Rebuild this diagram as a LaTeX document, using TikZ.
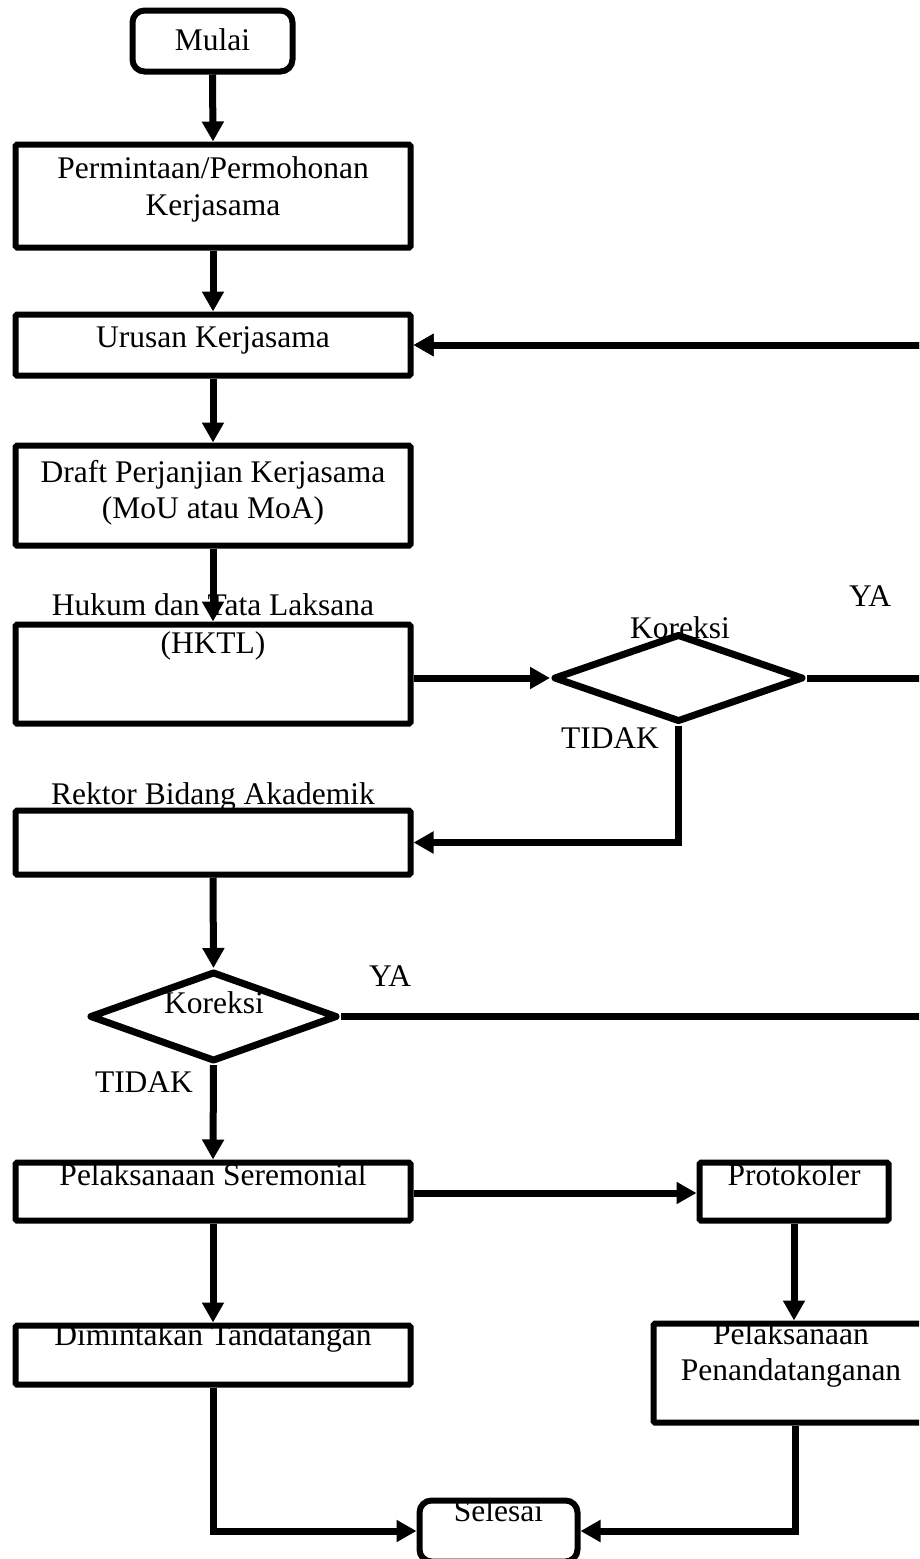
\documentclass[tikz,border=0pt]{standalone}
\usepackage{fontspec}
\setmainfont{Liberation Serif}
\usetikzlibrary{arrows.meta,shapes.geometric}
\begin{document}
\begin{tikzpicture}[x=1pt,y=-1pt,
  box/.style={draw, line width=6pt, rounded corners=1.5pt, inner sep=0pt},
  term/.style={draw, line width=6pt, rounded corners=12pt, inner sep=0pt},
  dec/.style={draw, diamond, line width=7pt, inner sep=0pt, line join=round},
  lbl/.style={font=\fontsize{31.5}{36}\selectfont, inner sep=0pt, anchor=base},
  flow/.style={line width=7pt, -{Triangle[length=20pt,width=21pt]}},
  plain/.style={line width=7pt}]
\clip (0,0) rectangle (919,1559);
% texts
\node[lbl] (tmulai) at (212.5,50) {Mulai};
\node[lbl] (tperm1) at (213,178) {Permintaan/Permohonan};
\node[lbl] (tperm2) at (213,215) {Kerjasama};
\node[lbl] (turusan) at (213,347) {Urusan Kerjasama};
\node[lbl] (tdraft1) at (213,482) {Draft Perjanjian Kerjasama};
\node[lbl] (tdraft2) at (213,518) {(MoU atau MoA)};
\node[lbl] (thktl1) at (213,615) {Hukum dan Tata Laksana};
\node[lbl] (thktl2) at (213,653) {(HKTL)};
\node[lbl] (trektor) at (213,804) {Rektor Bidang Akademik};
\node[lbl] (tkor1) at (680,638) {Koreksi};
\node[lbl] (tya1) at (870,606) {YA};
\node[lbl] (ttidak1) at (610,748) {TIDAK};
\node[lbl] (tkor2) at (214,1013) {Koreksi};
\node[lbl] (tya2) at (390,986) {YA};
\node[lbl] (ttidak2) at (144,1092) {TIDAK};
\node[lbl] (tser) at (213,1185) {Pelaksanaan Seremonial};
\node[lbl] (tprot) at (794,1185) {Protokoler};
\node[lbl] (tdim) at (213,1345) {Dimintakan Tandatangan};
\node[lbl] (tpen1) at (791,1344) {Pelaksanaan};
\node[lbl] (tpen2) at (791,1380) {Penandatanganan};
\node[lbl] (tsel) at (498.5,1521) {Selesai};
% shapes
\node[term, minimum width=160pt, minimum height=61pt] (mulai) at (212.5,41) {};
\node[box, minimum width=395pt, minimum height=103pt] (perm) at (213,196) {};
\node[box, minimum width=395pt, minimum height=61pt] (urusan) at (213,345) {};
\node[box, minimum width=395pt, minimum height=100pt] (draft) at (213,495.5) {};
\node[box, minimum width=395pt, minimum height=99pt] (hktl) at (213,674) {};
\node[box, minimum width=395pt, minimum height=64pt] (rektor) at (213,842.5) {};
\node[dec, minimum width=250pt, minimum height=88pt] (kor1) at (678.5,678) {};
\node[dec, minimum width=248pt, minimum height=90pt] (kor2) at (213.5,1016.5) {};
\node[box, minimum width=395pt, minimum height=58pt] (ser) at (213,1191.5) {};
\node[box, minimum width=189pt, minimum height=58pt] (prot) at (794,1191.5) {};
\node[box, minimum width=395pt, minimum height=59pt] (dim) at (213,1355) {};
\node[box, minimum width=283pt, minimum height=99pt] (pen) at (795,1373) {};
\node[term, minimum width=158pt, minimum height=61pt] (sel) at (498.5,1531) {};
\coordinate (rr) at (935,0);
% connectors
\draw[flow] (mulai.south) -- (perm.north);
\draw[flow] (perm.south) -- (urusan.north);
\draw[flow] (urusan.south) -- (draft.north);
\draw[flow] (draft.south) -- (hktl.north);
\draw[flow] (hktl.east |- kor1.west) -- (kor1.west);
\draw[flow] (kor1.east) -- (kor1.east -| rr) |- (urusan.east);
\draw[flow] (kor1.south) |- (rektor.east);
\draw[flow] (rektor.south) -- (kor2.north);
\draw[flow] (kor2.east) -- (kor2.east -| rr) |- (urusan.east);
\draw[flow] (kor2.south) -- (ser.north);
\draw[flow] (ser.east |- 0,1193) -- (prot.west |- 0,1193);
\draw[flow] (ser.south) -- (dim.north);
\draw[flow] (prot.south) -- (prot.south |- pen.north);
\draw[flow] (dim.south) |- (sel.west);
\draw[flow] (pen.south) |- (sel.east);
\end{tikzpicture}
\end{document}
